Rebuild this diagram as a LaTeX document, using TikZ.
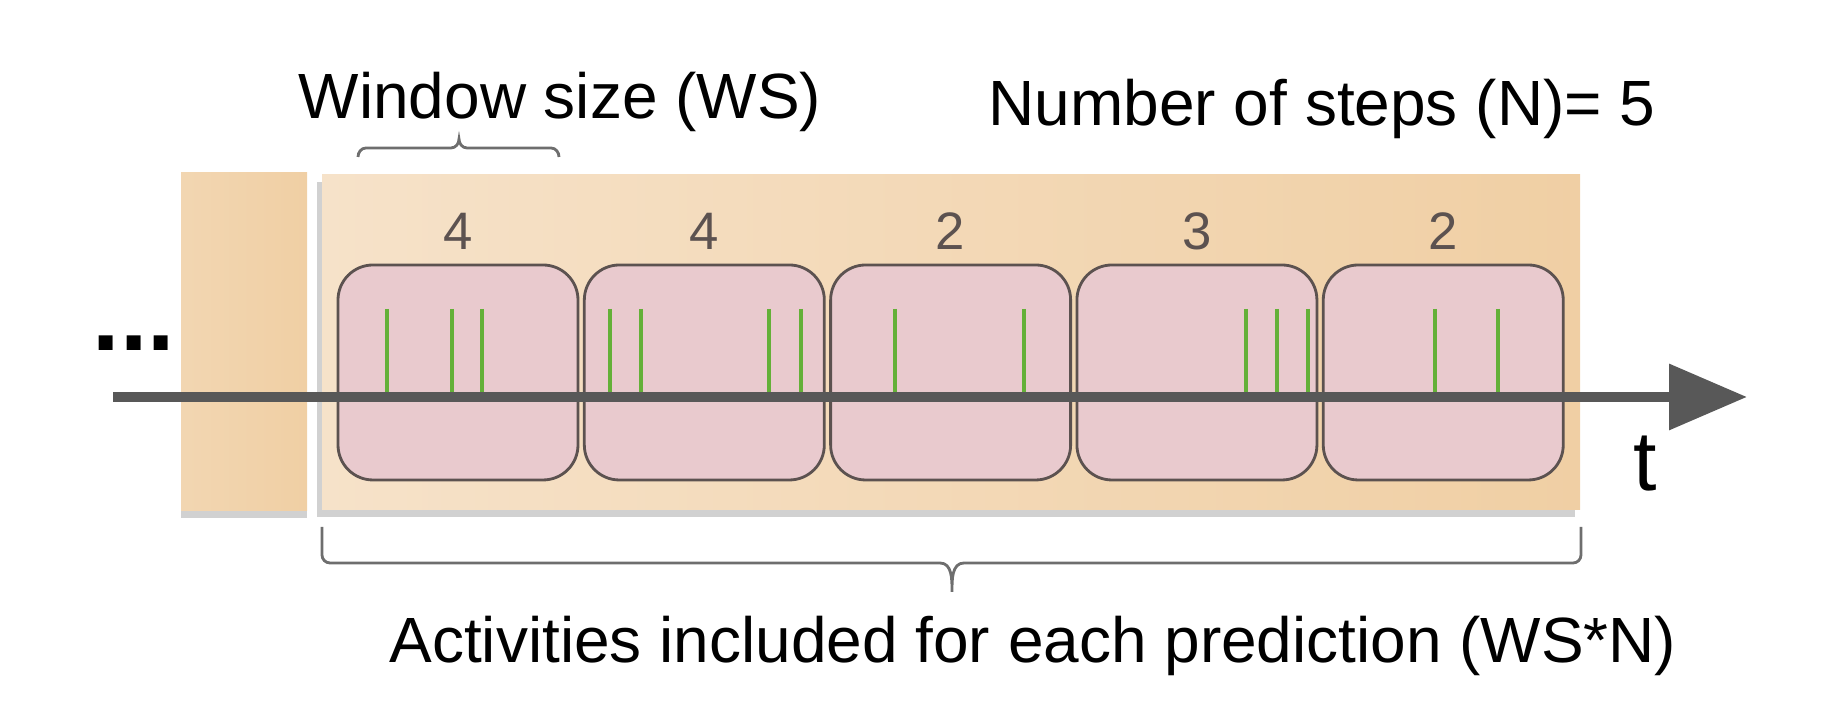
\documentclass[tikz,border=0pt]{standalone}
\usepackage{fontspec}
\setmainfont{Liberation Sans}
\usetikzlibrary{arrows.meta, positioning, shadows}

\definecolor{peachLight}{RGB}{246,226,201}
\definecolor{peachDark}{RGB}{240,207,164}
\definecolor{winFill}{RGB}{233,202,206}
\definecolor{winDraw}{RGB}{92,82,80}
\definecolor{actGreen}{RGB}{100,176,56}
\definecolor{axisGray}{RGB}{88,88,88}
\definecolor{braceGray}{RGB}{110,110,110}

\begin{document}
\begin{tikzpicture}[
    pastbox/.style  ={rectangle, inner sep=0pt, minimum width=1.26cm, minimum height=3.38cm,
                      left color=peachDark!85!white, right color=peachDark,
                      drop shadow={shadow xshift=0cm, shadow yshift=-0.07cm, opacity=0.3, fill=black!60}},
    predbox/.style  ={rectangle, inner sep=0pt, minimum width=12.58cm, minimum height=3.35cm,
                      left color=peachLight, right color=peachDark,
                      drop shadow={shadow xshift=-0.05cm, shadow yshift=-0.07cm, opacity=0.3, fill=black!60}},
    window/.style   ={rectangle, rounded corners=0.35cm, draw=winDraw, line width=0.8pt,
                      fill=winFill, minimum width=2.40cm, minimum height=2.15cm, inner sep=0pt},
    count/.style    ={text=winDraw, font=\fontsize{15}{17}\selectfont, inner sep=0pt, anchor=base},
    label/.style    ={font=\fontsize{18.2}{22}\selectfont, inner sep=0pt, anchor=base},
    activity/.style ={actGreen, line width=0.9pt},
    timeline/.style ={axisGray, line width=0.1cm, -{Triangle[length=0.78cm, width=0.64cm]}},
    curly/.style    ={braceGray, line width=0.8pt}
]
    \useasboundingbox (0,0) rectangle (18.30,7.17);

    % --- Bloques de fondo ---
    \node[pastbox] (past) at (2.44,3.75) {};
    \node[predbox] (pred) at (9.51,3.745) {};

    % --- Ventanas (una fila) ---
    \node[window] (w1) at (4.58,3.445) {};
    \node[window, right=0.035cm of w1] (w2) {};
    \node[window, right=0.035cm of w2] (w3) {};
    \node[window, right=0.035cm of w3] (w4) {};
    \node[window, right=0.035cm of w4] (w5) {};

    % --- Cantidad de actividades por ventana ---
    \node[count] (c1) at ([yshift=0.14cm]w1.north) {4};
    \node[count] (c2) at ([yshift=0.14cm]w2.north) {4};
    \node[count] (c3) at ([yshift=0.14cm]w3.north) {2};
    \node[count] (c4) at ([yshift=0.14cm]w4.north) {3};
    \node[count] (c5) at ([yshift=0.14cm]w5.north) {2};

    % --- Eje temporal ---
    \coordinate (tstart) at (1.13,3.20);
    \coordinate (tend)   at (17.47,3.20);
    \foreach \x in {3.87,4.52,4.82,6.10,6.41,7.69,8.01,8.95,10.24,12.46,12.77,13.08,14.35,14.98}
        \draw[activity] (\x,4.08) -- (\x,3.20);
    \draw[timeline] (tstart) -- (tend);

    \node[font=\fontsize{24}{28}\selectfont, inner sep=0pt, anchor=base] (t) at (16.45,2.26) {t};
    \node[font=\fontsize{28}{30}\selectfont\bfseries, inner sep=0pt, anchor=base] (dots) at (1.34,3.66) {...};

    % --- Textos ---
    \node[label] (ws)    at (5.60,5.98)  {Window size (WS)};
    \node[label] (steps) at (13.22,5.91) {Number of steps (N)= 5};
    \node[label] (incl)  at (10.33,0.54) {Activities included for each prediction (WS*N)};

    % Llave superior (tamano de ventana)
    \coordinate (wsL) at (3.58,5.60);
    \coordinate (wsR) at (5.59,5.60);
    \draw[curly] (wsL) to[out=90,in=180] ++(0.08,0.09) -- (4.51,5.69)
        to[out=0,in=-90] (4.59,5.78) to[out=-90,in=180] (4.67,5.69)
        -- (5.51,5.69) to[out=0,in=90] (wsR);

    % Llave inferior (todas las ventanas)
    \coordinate (allL) at (3.22,1.90);
    \coordinate (allR) at (15.81,1.90);
    \draw[curly] (allL) -- (3.22,1.62) to[out=-90,in=180] (3.30,1.54) -- (9.40,1.54)
        to[out=0,in=90] (9.52,1.25) to[out=90,in=180] (9.64,1.54)
        -- (15.73,1.54) to[out=0,in=-90] (15.81,1.62) -- (allR);
\end{tikzpicture}
\end{document}
